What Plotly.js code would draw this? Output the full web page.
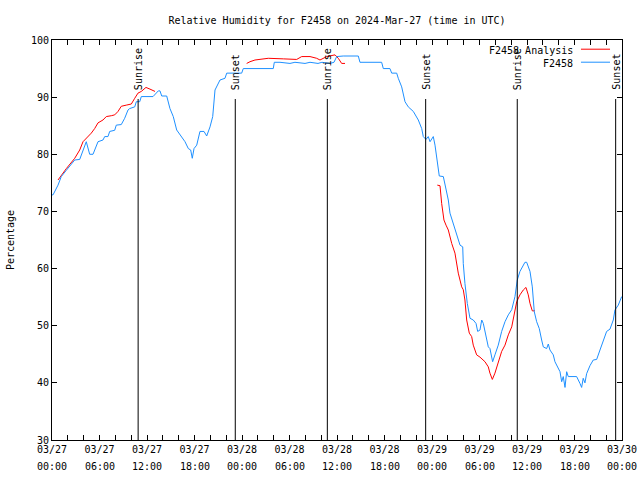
<!DOCTYPE html>
<html>
<head>
<meta charset="utf-8">
<script src="https://cdn.plot.ly/plotly-3.0.1.min.js"></script>
<style>html,body{margin:0;padding:0;background:#fff;}#chart{width:640px;height:480px;}</style>
</head>
<body>
<div id="chart"></div>
<script>
// Hours since 2024-03-27 00:00 UTC
const obsHours = [0,0.13,0.76,1.17,1.81,2.24,2.87,3.50,4.13,4.33,4.76,5.18,5.81,6.44,6.66,7.07,7.29,7.92,8.12,8.75,9.18,9.60,9.81,10.45,10.65,11.08,11.28,12.76,13.43,13.64,13.86,14.49,14.90,15.32,15.75,16.38,16.80,17.22,17.52,17.72,17.94,18.28,18.69,19.20,19.54,19.96,20.30,20.59,21.22,21.85,22.07,23.96,24.16,27.95,28.08,28.80,30.06,30.69,31.96,32.59,33.60,34.10,35.11,35.62,35.96,36.79,38.69,38.90,41.64,41.85,42.69,42.91,43.54,43.74,44.17,44.59,45.00,45.64,46.27,46.70,46.90,47.24,47.53,47.75,48.16,48.38,48.79,48.92,49.43,49.64,50.06,50.27,50.69,51.12,51.54,51.88,51.95,52.16,52.46,52.80,53.21,53.56,53.77,54.06,54.28,54.48,54.82,55.11,55.32,55.54,55.66,55.95,56.37,56.80,57.22,57.64,58.07,58.48,58.77,59.11,59.74,59.96,60.38,60.67,60.92,61.22,61.55,61.85,62.06,62.48,62.69,62.90,63.32,63.53,63.95,64.17,64.38,64.58,64.80,65.01,65.21,66.27,66.69,66.90,67.10,67.32,67.53,67.95,68.37,68.80,69.22,69.63,70.06,70.48,70.90,71.11,71.53,71.96];
const obsRH = [72.9,72.9,74.6,76.1,77.2,77.9,79.0,79.1,81.3,82.2,80.0,80.0,82.2,82.5,83.1,83.1,84.0,84.2,85.1,85.2,86.3,87.75,88.0,88.3,89.2,89.2,90.1,90.1,91.1,91.1,90.2,90.2,88.0,86.6,84.25,83.1,82.2,81.0,80.75,79.3,81.0,81.6,84.0,84.0,83.2,84.8,86.6,91.25,93.0,93.3,94.2,94.2,95.0,95.0,96.1,96.1,95.9,96.1,95.9,96.1,95.9,96.1,95.9,96.1,97.1,97.2,97.2,96.1,96.1,95.0,95.0,94.2,94.2,93.3,91.8,89.2,88.3,87.5,86.0,84.5,83.1,82.6,83.1,82.2,83.1,81.6,77.0,76.2,76.1,74.6,72.0,69.7,67.9,66.2,64.1,63.8,60.9,57.4,53.9,51.3,51.0,50.4,49.0,49.25,51.0,50.4,48.1,46.3,46.0,44.3,43.7,44.9,46.6,49.0,50.7,51.9,52.8,55.1,58.0,59.5,61.1,61.1,59.5,56.8,52.45,50.7,49.5,47.5,46.3,46.0,46.8,45.75,44.9,43.7,42.5,41.95,40.2,41.1,39.2,41.95,41.1,41.1,39.9,39.2,40.8,40.0,41.6,43.0,44.0,44.1,45.75,47.2,49.0,49.4,51.0,52.75,53.6,55.1];

const anaHours = [0.76,1.39,1.81,2.87,3.50,3.92,4.55,4.96,5.39,5.81,6.44,6.86,7.49,7.92,8.34,8.75,9.38,10.02,10.45,10.86,11.28,11.87,12.38,13.01,null,24.59,25.01,25.64,26.49,27.32,29.22,30.91,31.54,32.59,33.43,33.85,34.70,35.75,36.16,36.59,37.01,null,48.67,49.01,49.22,49.51,49.77,50.06,50.49,50.90,51.32,51.75,51.95,52.16,52.38,52.71,53.01,53.21,53.64,54.06,54.69,55.11,55.32,55.62,55.95,56.37,56.80,57.22,57.64,58.07,58.36,58.70,59.11,59.53,59.87,60.16,60.38,60.67,61.01];
const anaRH = [75.5,76.7,77.5,79.3,80.75,82.2,83.1,83.7,84.5,85.5,86.0,86.6,86.75,86.9,87.5,88.4,88.6,88.8,89.8,90.7,91.0,91.7,91.4,91.0,null,95.9,96.2,96.5,96.6,96.8,96.7,96.6,97.1,97.1,96.8,96.5,97.1,97.4,96.8,95.9,95.9,null,74.6,74.5,71.4,68.5,67.6,66.75,64.4,62.7,59.2,56.8,56.3,54.5,51.0,48.7,48.1,46.6,44.9,44.5,43.7,42.8,41.7,40.6,41.7,43.4,45.5,46.6,48.4,49.8,51.9,54.2,55.4,56.25,56.7,55.4,53.9,52.6,52.6];

const sunEventHours = [10.88, 23.15, 34.78, 47.2, 58.77, 71.2];
const sunEventNames = ["Sunrise", "Sunset", "Sunrise", "Sunset", "Sunrise", "Sunset"];

const tickHours = [0,2,4,6,8,10,12,14,16,18,20,22,24,26,28,30,32,34,36,38,40,42,44,46,48,50,52,54,56,58,60,62,64,66,68,70,72];
const labelHours = [0,6,12,18,24,30,36,42,48,54,60,66,72];
const labelDates = ["03/27","03/27","03/27","03/27","03/28","03/28","03/28","03/28","03/29","03/29","03/29","03/29","03/30"];
const labelTimes = ["00:00","06:00","12:00","18:00","00:00","06:00","12:00","18:00","00:00","06:00","12:00","18:00","00:00"];

const seriesNames = ["F2458 Analysis", "F2458"];
const seriesColors = ["#ff0000", "#1e90ff"];

const FONT = "DejaVu Sans Mono, monospace";

const traces = [
  {x: anaHours, y: anaRH, type: 'scatter', mode: 'lines', name: seriesNames[0],
   line: {color: seriesColors[0], width: 1}, connectgaps: false, showlegend: false},
  {x: obsHours, y: obsRH, type: 'scatter', mode: 'lines', name: seriesNames[1],
   line: {color: seriesColors[1], width: 1}, showlegend: false}
];

const shapes = [];
const annotations = [];
sunEventHours.forEach((h, i) => {
  shapes.push({type: 'line', xref: 'x', yref: 'paper', x0: h, x1: h, y0: 0, y1: 0.8525,
    line: {color: '#000', width: 1}});
  annotations.push({xref: 'x', yref: 'paper', x: h, y: 0.87, text: sunEventNames[i],
    textangle: -90, showarrow: false, xanchor: 'center', yanchor: 'bottom',
    font: {family: FONT, size: 10, color: '#000'}});
});
// second line of the x tick labels (time of day)
labelHours.forEach((h, i) => {
  annotations.push({xref: 'x', yref: 'paper', x: h, y: -0.0675, text: labelTimes[i],
    showarrow: false, xanchor: 'center', yanchor: 'middle',
    font: {family: FONT, size: 10, color: '#000'}});
});
// legend (gnuplot style: text then sample line)
const legY = [0.975, 0.9425];
seriesNames.forEach((n, i) => {
  annotations.push({xref: 'paper', yref: 'paper', x: 0.9175, y: legY[i], text: n,
    showarrow: false, xanchor: 'right', yanchor: 'middle',
    font: {family: FONT, size: 10, color: '#000'}});
  shapes.push({type: 'line', xref: 'paper', yref: 'paper', x0: 0.928, x1: 0.979,
    y0: legY[i] + 0.002, y1: legY[i] + 0.002, line: {color: seriesColors[i], width: 1}});
});

const layout = {
  width: 640, height: 480,
  margin: {l: 52, r: 18, t: 40, b: 40, pad: 0},
  paper_bgcolor: '#fff', plot_bgcolor: '#fff',
  font: {family: FONT, size: 10, color: '#000'},
  title: {text: "Relative Humidity for F2458 on 2024-Mar-27 (time in UTC)",
    x: 0.5, xref: 'paper', y: 1 - 20/480, yanchor: 'middle',
    font: {family: FONT, size: 10, color: '#000'}},
  xaxis: {range: [0, 72], tickmode: 'array', tickvals: tickHours,
    ticktext: tickHours.map(h => { const k = labelHours.indexOf(h); return k >= 0 ? labelDates[k] : ""; }),
    ticks: 'inside', ticklen: 5, tickcolor: '#000', tickwidth: 1,
    showline: true, linecolor: '#000', linewidth: 1, mirror: 'ticks',
    showgrid: false, zeroline: false, tickfont: {family: FONT, size: 10}},
  yaxis: {range: [30, 100], tickmode: 'linear', tick0: 30, dtick: 10,
    ticks: 'inside', ticklen: 5, tickcolor: '#000', tickwidth: 1,
    showline: true, linecolor: '#000', linewidth: 1, mirror: 'ticks',
    showgrid: false, zeroline: false, tickfont: {family: FONT, size: 10},
    title: {text: "Percentage", font: {family: FONT, size: 10}, standoff: 14}},
  shapes: shapes,
  annotations: annotations,
  showlegend: false
};

Plotly.newPlot('chart', traces, layout, {displayModeBar: false, staticPlot: true});
</script>
</body>
</html>
